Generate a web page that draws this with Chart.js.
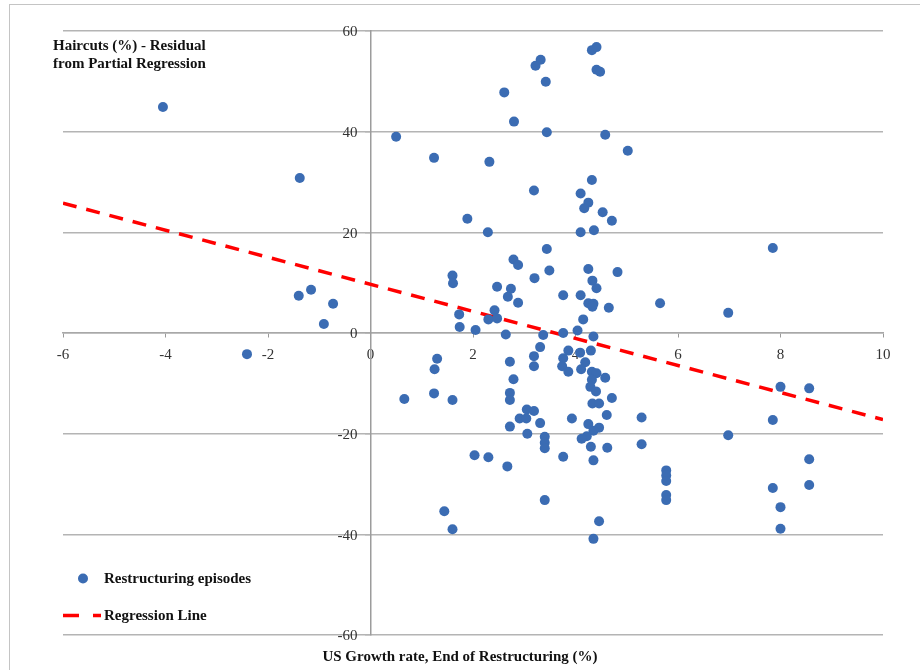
<!DOCTYPE html>
<html>
<head>
<meta charset="utf-8">
<script src="https://cdn.jsdelivr.net/npm/chart.js@4.4.1/dist/chart.umd.min.js"></script>
<style>
  html, body { margin: 0; padding: 0; background: #fff; }
  #wrap { position: relative; width: 920px; height: 670px; overflow: hidden; }
  #frame { position: absolute; left: 9px; top: 4px; width: 1000px; height: 1000px;
           border-top: 1px solid #c4c4c4; border-left: 1px solid #c4c4c4; }
  canvas { position: absolute; left: 0; top: 0; }
</style>
</head>
<body>
<div id="wrap">
  <div id="frame"></div>
  <canvas id="chart" width="920" height="670"></canvas>
</div>
<script>
// US growth rate at end of restructuring (%), one entry per episode
const growthRate = [
  -4.05, -1.38, -1.40, -1.16, -0.73, -0.91, -2.41, 0.50, 1.24, 1.60,
  1.61, 1.73, 1.74, 2.05, 1.89, 2.29, 2.32, 2.61, 2.80, 3.22,
  3.32, 3.42, 3.44, 4.32, 4.41, 4.41, 4.48, 4.58, 5.02, 4.32,
  3.19, 4.10, 4.25, 4.17, 4.53, 4.71, 4.10, 4.36, 3.44, 2.79,
  2.88, 3.20, 3.49, 4.25, 4.33, 4.41, 4.82, 2.47, 2.74, 2.68,
  2.88, 3.76, 4.10, 4.25, 4.35, 4.33, 4.65, 5.65, 6.98, 7.85,
  4.15, 2.42, 2.30, 2.47, 2.64, 3.37, 3.76, 4.04, 4.35,
  1.30, 1.25, 1.24, 0.66, 1.60, 2.03, 2.30, 2.67, 1.44, 1.60,
  2.72, 2.79, 2.72, 2.72, 3.05, 3.19, 2.91, 3.04, 3.31, 2.72,
  3.06, 3.40, 3.40, 3.40, 3.40, 3.31, 3.19, 3.19, 3.86, 3.76,
  3.74, 3.86, 4.09, 4.30, 4.19, 4.11, 4.32, 4.41, 4.58, 4.32,
  4.29, 4.40, 4.71, 4.33, 4.46, 4.61, 3.93, 4.25, 4.46, 4.35,
  4.22, 4.12, 4.30, 4.62, 3.76, 4.35, 4.46, 4.35, 5.29, 5.29,
  5.77, 5.77, 5.77, 5.77, 5.77, 6.98, 7.85, 8.00, 8.56, 8.56,
  8.56, 7.85, 8.00, 8.00
];

// Haircut residual from the partial regression (%), same order as growthRate
const haircutResidual = [
  44.9, 30.8, 7.4, 8.6, 5.8, 1.8, -4.2, 39.0, 34.8, 11.4,
  9.9, 3.7, 1.2, 0.6, 22.7, 20.0, 34.0, 47.8, 42.0, 53.1,
  54.3, 49.9, 39.9, 56.2, 56.8, 52.3, 51.9, 39.4, 36.2, 30.4,
  28.3, 27.7, 25.9, 24.8, 24.0, 22.3, 20.0, 20.4, 16.7, 14.6,
  13.5, 10.9, 12.4, 12.7, 10.4, 8.9, 12.1, 9.2, 8.8, 7.2,
  6.0, 7.5, 7.5, 5.9, 5.8, 5.2, 5.0, 5.9, 4.0, 16.9,
  2.7, 4.5, 2.7, 2.9, -0.3, -0.4, 0.0, 0.5, -0.7,
  -5.1, -7.2, -12.0, -13.1, -13.3, -24.3, -24.7, -26.5, -35.4, -39.0,
  -5.7, -9.2, -11.9, -13.3, -15.2, -15.5, -17.0, -17.0, -17.9, -18.6,
  -20.0, -20.6, -21.8, -22.9, -33.2, -2.8, -4.6, -6.6, -3.5, -5.0,
  -6.6, -7.7, -3.9, -3.5, -5.8, -7.2, -7.7, -8.0, -8.9, -9.3,
  -10.7, -11.6, -12.9, -14.0, -14.0, -16.3, -17.0, -18.1, -18.8, -19.4,
  -20.5, -21.0, -22.6, -22.8, -24.6, -25.3, -37.4, -40.9, -16.8, -22.1,
  -27.3, -28.3, -29.4, -32.2, -33.2, -20.3, -17.3, -10.7, -11.0, -25.1,
  -30.2, -30.8, -34.6, -38.9
];

// Fitted regression line end points
const regressionX = [-6, 10];
const regressionY = [25.8, -17.2];

// Axis tick values
const xTickValues = [-6, -4, -2, 0, 2, 4, 6, 8, 10];
const yTickValues = [-60, -40, -20, 0, 20, 40, 60];

const seriesNames = ['Restructuring episodes', 'Regression Line'];
const yTitleLines = ['Haircuts (%) - Residual', 'from Partial Regression'];
const xTitle = 'US Growth rate, End of Restructuring (%)';

const serif = "'Liberation Serif', 'Times New Roman', serif";
const dotColor = '#3b6cb3';
const lineColor = '#ff0000';

// The y axis crosses at x = 0; keep its labels clear of the axis line and tick marks
const yLabelGap = {
  id: 'yLabelGap',
  beforeDraw(chart) {
    const s = chart.scales.y;
    const items = s.getLabelItems(chart.chartArea);
    if (items && !items._shifted) {
      items.forEach(it => {
        if (it.options && it.options.translation) {
          it.options.translation[0] -= 13;
          it.options.translation[1] += 1.5;
        }
      });
      items._shifted = true;
    }
  }
};

// Titles and the in-plot legend
const annotations = {
  id: 'annotations',
  afterDraw(chart) {
    const { ctx, chartArea: a } = chart;
    ctx.save();
    ctx.fillStyle = '#111';
    ctx.font = `bold 15px ${serif}`;
    ctx.textBaseline = 'middle';
    ctx.textAlign = 'left';
    yTitleLines.forEach((t, i) => ctx.fillText(t, a.left - 10, a.top + 15 + i * 18));

    ctx.textAlign = 'center';
    ctx.fillText(xTitle, chart.width / 2, a.bottom + 22.5);

    // legend: scatter marker
    const ly1 = a.bottom - 56.5, ly2 = a.bottom - 19.5;
    ctx.fillStyle = dotColor;
    ctx.beginPath();
    ctx.arc(a.left + 20, ly1, 5, 0, Math.PI * 2);
    ctx.fill();
    // legend: dashed line sample
    ctx.strokeStyle = lineColor;
    ctx.lineWidth = 3.5;
    ctx.setLineDash([16, 14]);
    ctx.beginPath();
    ctx.moveTo(a.left, ly2);
    ctx.lineTo(a.left + 38, ly2);
    ctx.stroke();
    ctx.setLineDash([]);

    ctx.fillStyle = '#111';
    ctx.textAlign = 'left';
    ctx.fillText(seriesNames[0], a.left + 41, ly1 + 1);
    ctx.fillText(seriesNames[1], a.left + 41, ly2 + 1);
    ctx.restore();
  }
};

const tickFont = { family: serif, size: 15 };

new Chart(document.getElementById('chart'), {
  type: 'scatter',
  data: {
    datasets: [
      {
        label: seriesNames[0],
        data: growthRate.map((x, i) => ({ x, y: haircutResidual[i] })),
        backgroundColor: dotColor,
        borderWidth: 0,
        pointRadius: 5,
        pointHoverRadius: 5,
        order: 0
      },
      {
        label: seriesNames[1],
        type: 'line',
        data: regressionX.map((x, i) => ({ x, y: regressionY[i] })),
        borderColor: lineColor,
        borderWidth: 3.5,
        borderDash: [14, 10],
        pointRadius: 0,
        fill: false,
        order: 1
      }
    ]
  },
  options: {
    responsive: false,
    devicePixelRatio: 1,
    animation: false,
    layout: { padding: { left: 63, right: 37, top: 31, bottom: 35 } },
    plugins: { legend: { display: false }, tooltip: { enabled: false } },
    scales: {
      x: {
        type: 'linear',
        min: -6, max: 10,
        position: { y: 0 },
        afterFit: s => { s.height = 0; },
        afterBuildTicks: s => { s.ticks = xTickValues.map(v => ({ value: v })); },
        grid: { drawOnChartArea: false, drawTicks: true, tickLength: 4, color: '#9a9a9a', lineWidth: 1 },
        border: { display: true, color: '#a8a8a8', width: 1.5 },
        ticks: { font: tickFont, color: '#333', padding: 9, maxRotation: 0, autoSkip: false }
      },
      y: {
        type: 'linear',
        min: -60, max: 60,
        position: { x: 0 },
        afterFit: s => { s.width = 0; },
        afterBuildTicks: s => { s.ticks = yTickValues.map(v => ({ value: v })); },
        grid: { drawOnChartArea: true, drawTicks: true, tickLength: 5, color: '#b4b4b4', lineWidth: 1.5 },
        border: { display: true, color: '#9c9c9c', width: 1.5 },
        ticks: { font: tickFont, color: '#333', padding: 8, autoSkip: false }
      }
    }
  },
  plugins: [yLabelGap, annotations]
});
</script>
</body>
</html>
